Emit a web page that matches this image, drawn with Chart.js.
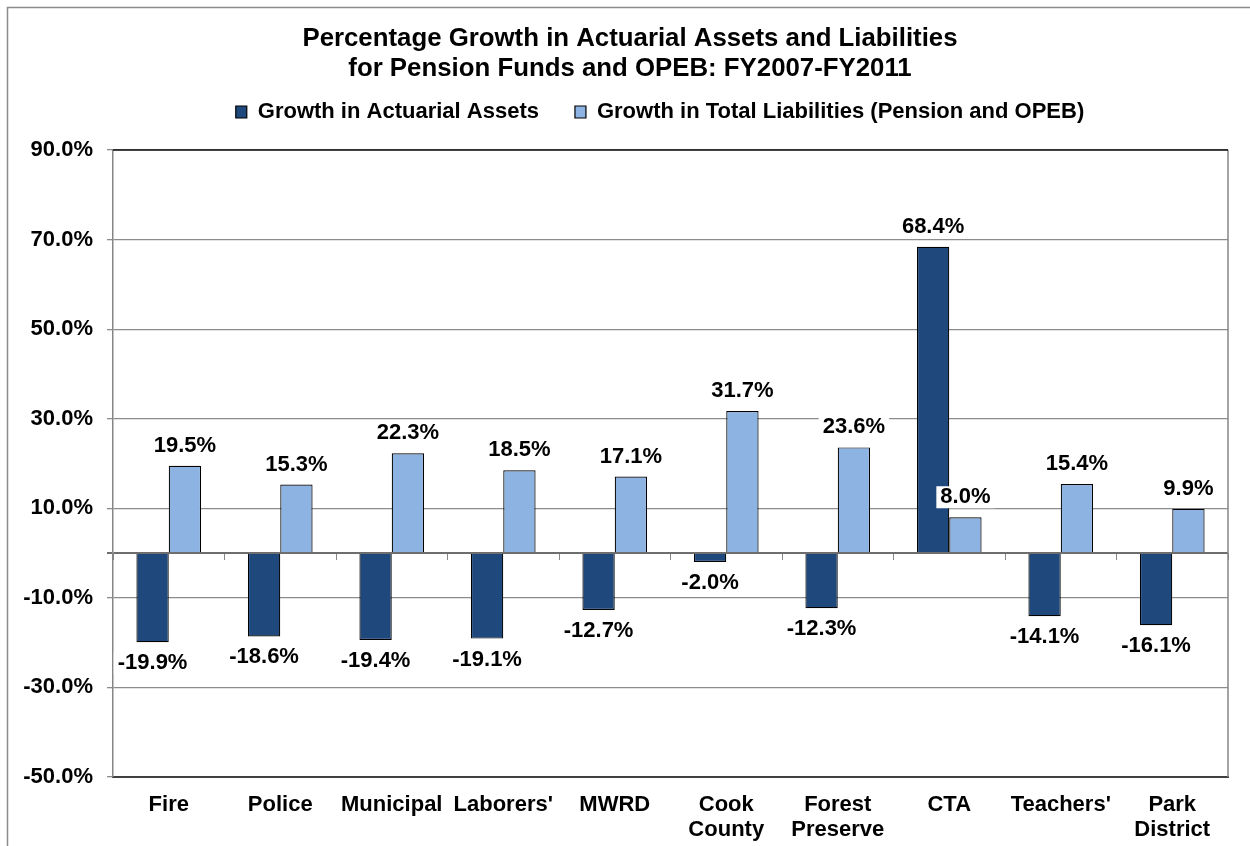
<!DOCTYPE html>
<html>
<head>
<meta charset="utf-8">
<script src="https://cdn.jsdelivr.net/npm/chart.js@4/dist/chart.umd.min.js"></script>
<style>
  html, body { margin: 0; padding: 0; background: #fff; }
  #wrap { position: relative; width: 1250px; height: 846px; }
</style>
</head>
<body>
<div id="wrap"><canvas id="growthChart"></canvas></div>
<script>
// 데이터
const categories = ['Fire', 'Police', 'Municipal', "Laborers'", 'MWRD', ['Cook', 'County'], ['Forest', 'Preserve'], 'CTA', "Teachers'", ['Park', 'District']];
const assetGrowth = [-19.9, -18.6, -19.4, -19.1, -12.7, -2.0, -12.3, 68.4, -14.1, -16.1];
const liabilityGrowth = [19.5, 15.3, 22.3, 18.5, 17.1, 31.7, 23.6, 8.0, 15.4, 9.9];
const yTicks = [-50, -30, -10, 0, 10, 30, 50, 70, 90];

const FONT = '"Liberation Sans", Arial, sans-serif';

// 범례 아래 여백 추가, 제목/범례 가로 위치 보정
const headerLayout = {
    id: 'headerLayout',
    beforeInit(chart) {
        const fit = chart.legend.fit;
        chart.legend.fit = function() {
            fit.bind(chart.legend)();
            this.height += 17;
        };
    },
    afterLayout(chart) {
        chart.titleBlock.left += 10;
        chart.titleBlock.right += 10;
        chart.legend.left += 40;
        chart.legend.right += 40;
    }
};

// 막대 값 라벨 (흰 배경)
const valueLabels = {
    id: 'valueLabels',
    afterDatasetsDraw(chart) {
        const ctx = chart.ctx;
        ctx.save();
        ctx.font = 'bold 22px ' + FONT;
        ctx.textAlign = 'center';
        ctx.textBaseline = 'middle';
        chart.data.datasets.forEach((ds, i) => {
            chart.getDatasetMeta(i).data.forEach((bar, j) => {
                const v = ds.data[j];
                const txt = v.toFixed(1) + '%';
                const w = ctx.measureText(txt).width + 8;
                const cy = v >= 0 ? bar.y - 20 : bar.y + 21;
                ctx.fillStyle = '#fff';
                ctx.fillRect(bar.x - w / 2, cy - 11, w, 22);
                ctx.fillStyle = '#000';
                ctx.fillText(txt, bar.x, cy);
            });
        });
        ctx.restore();
    }
};

// 플롯 테두리와 바깥 프레임
const frame = {
    id: 'frame',
    beforeDatasetsDraw(chart) {
        const { ctx, chartArea: a } = chart;
        ctx.save();
        ctx.lineWidth = 1.5;
        ctx.strokeStyle = '#868686';
        ctx.beginPath();
        ctx.moveTo(a.right, a.top);
        ctx.lineTo(a.right, a.bottom);
        ctx.stroke();
        ctx.strokeStyle = '#111';
        ctx.beginPath();
        ctx.moveTo(a.left, a.top);
        ctx.lineTo(a.right, a.top);
        ctx.stroke();
        ctx.restore();
    },
    afterDraw(chart) {
        const ctx = chart.ctx;
        ctx.save();
        ctx.strokeStyle = '#8c8c8c';
        ctx.lineWidth = 1.5;
        ctx.strokeRect(7.5, 7.5, 1260, 860);
        ctx.restore();
    }
};

const canvas = document.getElementById('growthChart');
new Chart(canvas, {
    type: 'bar',
    data: {
        labels: categories,
        datasets: [{
            label: 'Growth in Actuarial Assets',
            data: assetGrowth,
            backgroundColor: '#1f497d',
            borderColor: '#000',
            borderWidth: 1.2,
            xAxisID: 'x'
        }, {
            label: 'Growth in Total Liabilities (Pension and OPEB)',
            data: liabilityGrowth,
            backgroundColor: '#8db3e2',
            borderColor: '#000',
            borderWidth: 1.2,
            xAxisID: 'x'
        }]
    },
    options: {
        responsive: true,
        maintainAspectRatio: false,
        animation: false,
        categoryPercentage: 0.58,
        barPercentage: 1.0,
        layout: { padding: { left: 12, right: 22, top: 8, bottom: 0 } },
        plugins: {
            title: {
                display: true,
                text: ['Percentage Growth in Actuarial Assets and Liabilities', 'for Pension Funds and OPEB: FY2007-FY2011'],
                color: '#000',
                font: { family: FONT, size: 25.8, weight: 'bold', lineHeight: 1.163 },
                padding: { top: 16, bottom: -19 }
            },
            legend: {
                position: 'top',
                labels: {
                    color: '#000',
                    font: { family: FONT, size: 22, weight: 'bold' },
                    boxWidth: 11,
                    boxHeight: 12,
                    padding: 36
                }
            },
            tooltip: { enabled: false }
        },
        scales: {
            x: {
                position: 'bottom',
                grid: { display: false },
                border: { display: true, color: '#404040', width: 2 },
                afterFit(scale) { scale.height = 69; },
                ticks: {
                    color: '#000',
                    font: { family: FONT, size: 22, weight: 'bold', lineHeight: 1.12 },
                    maxRotation: 0,
                    autoSkip: false,
                    padding: 8
                }
            },
            x0: {
                type: 'category',
                position: { y: 0 },
                offset: true,
                grid: { drawOnChartArea: false, tickLength: 7, color: '#868686', offset: true },
                border: { display: false },
                ticks: { display: false }
            },
            y: {
                min: -50,
                max: 90,
                afterBuildTicks(scale) {
                    scale.ticks = yTicks.map(v => ({ value: v }));
                },
                afterFit(scale) { scale.width = 101; },
                grid: {
                    color: ctx => ctx.tick && ctx.tick.value === 0 ? '#6e6e6e' : '#8c8c8c',
                    lineWidth: ctx => ctx.tick && ctx.tick.value === 0 ? 2 : 1.3,
                    tickLength: 6
                },
                border: { display: true, color: '#868686', width: 1.5 },
                ticks: {
                    color: '#000',
                    font: { family: FONT, size: 22, weight: 'bold' },
                    padding: 14,
                    callback: v => v === 0 ? '' : v.toFixed(1) + '%'
                }
            }
        }
    },
    plugins: [headerLayout, frame, valueLabels]
});
</script>
</body>
</html>
